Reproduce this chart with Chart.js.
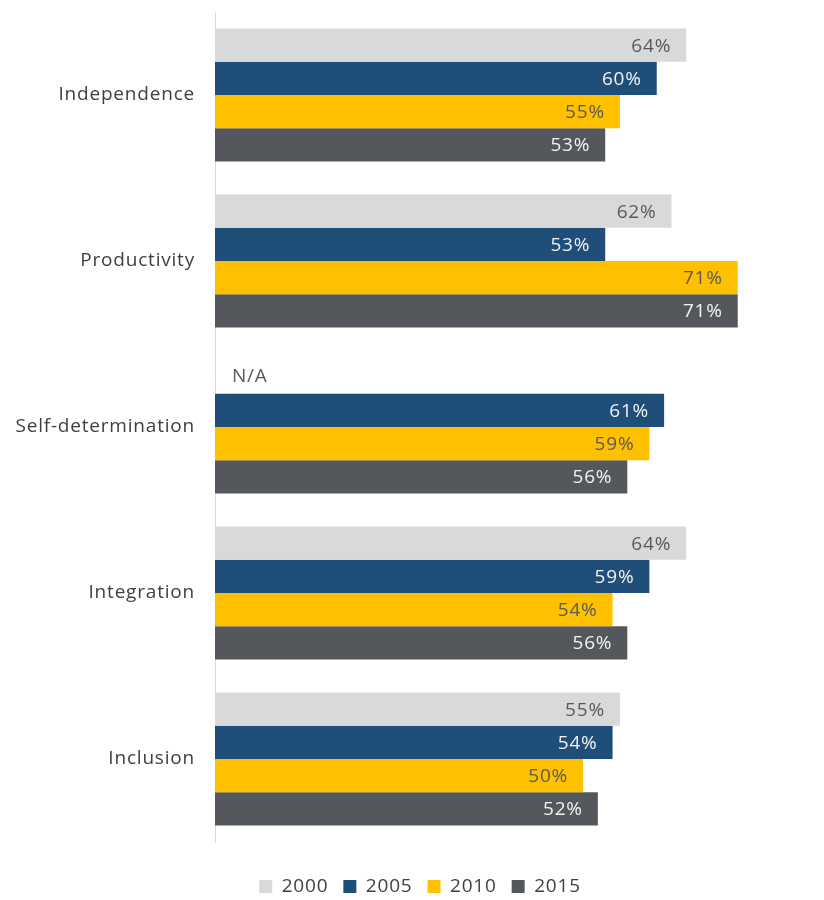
<!DOCTYPE html>
<html>
<head>
<meta charset="utf-8">
<script src="https://cdn.jsdelivr.net/npm/chart.js"></script>
<style>
  html, body { margin: 0; padding: 0; background: #fff; }
  #wrap { width: 824px; height: 900px; }
</style>
</head>
<body>
<div id="wrap"><canvas id="values-chart"></canvas></div>
<script>
const categories = ['Independence', 'Productivity', 'Self-determination', 'Integration', 'Inclusion'];
const years = ['2000', '2005', '2010', '2015'];

const values2000 = [64, 62, null, 64, 55];
const values2005 = [60, 53, 61, 59, 54];
const values2010 = [55, 71, 59, 54, 50];
const values2015 = [53, 71, 56, 56, 52];

const barColors = ['#d9d9d9', '#1f4e79', '#ffc000', '#54575c'];
const labelColors = ['#595959', '#f2f2f2', '#595959', '#f2f2f2'];

const FONT = "'Open Sans', 'DejaVu Sans', sans-serif";
const FONT_SIZE = 19;
const SPACING = '0.8px';

// slightly spaced lettering for every bit of text on the canvas
const letterSpacing = {
  id: 'letterSpacing',
  beforeLayout(chart) { chart.ctx.letterSpacing = SPACING; },
  beforeDraw(chart) { chart.ctx.letterSpacing = SPACING; }
};

// fixed legend height so the legend row sits close to the bottom edge,
// and the row nudged right to sit under the bars
const legendPlacement = {
  id: 'legendPlacement',
  afterInit(chart) {
    const lg = chart.legend;
    const fit = lg.fit.bind(lg);
    lg.fit = function () { fit(); this.height = 38; };
  },
  afterLayout(chart) {
    chart.legend.left += 18;
    chart.legend.right += 18;
  }
};

// value labels drawn inside the end of each bar, "N/A" for missing ones
const barLabels = {
  id: 'barLabels',
  afterDatasetsDraw(chart) {
    const ctx = chart.ctx;
    const xScale = chart.scales.x;
    ctx.save();
    ctx.letterSpacing = SPACING;
    ctx.font = FONT_SIZE + 'px ' + FONT;
    ctx.textBaseline = 'middle';
    chart.data.datasets.forEach((ds, di) => {
      const meta = chart.getDatasetMeta(di);
      meta.data.forEach((bar, i) => {
        const v = ds.data[i];
        if (v == null) {
          ctx.fillStyle = '#595959';
          ctx.textAlign = 'left';
          ctx.fillText('N/A', xScale.left + 17, bar.y - 1);
          return;
        }
        ctx.fillStyle = labelColors[di];
        ctx.textAlign = 'right';
        ctx.fillText(v + '%', bar.x - 15, bar.y + 1);
      });
    });
    ctx.restore();
  }
};

const seriesValues = [values2000, values2005, values2010, values2015];

new Chart(document.getElementById('values-chart'), {
  type: 'bar',
  data: {
    labels: categories,
    datasets: years.map((y, i) => ({
      label: y,
      data: seriesValues[i],
      backgroundColor: barColors[i],
      borderWidth: 0,
      categoryPercentage: 0.8,
      barPercentage: 1.0
    }))
  },
  options: {
    indexAxis: 'y',
    responsive: true,
    maintainAspectRatio: false,
    animation: false,
    layout: { padding: { top: 12, right: 20, left: 0, bottom: 0 } },
    scales: {
      x: {
        min: 0,
        max: 80,
        ticks: { display: false },
        grid: { display: false, drawTicks: false },
        border: { display: false },
        afterFit(scale) {
          scale.height = 20;
          scale.paddingLeft = 0;
          scale.paddingRight = 0;
        }
      },
      y: {
        ticks: {
          color: '#404040',
          font: { family: FONT, size: FONT_SIZE },
          padding: 20
        },
        grid: { display: false, drawTicks: false },
        border: { display: true, color: '#d9d9d9', width: 1 },
        afterFit(scale) {
          scale.width = 215;
          scale.paddingTop = 0;
          scale.paddingBottom = 0;
        }
      }
    },
    plugins: {
      legend: {
        position: 'bottom',
        labels: {
          color: '#404040',
          font: { family: FONT, size: FONT_SIZE },
          boxWidth: 13,
          boxHeight: 13,
          padding: 15
        }
      },
      tooltip: { enabled: false }
    }
  },
  plugins: [letterSpacing, legendPlacement, barLabels]
});
</script>
</body>
</html>
